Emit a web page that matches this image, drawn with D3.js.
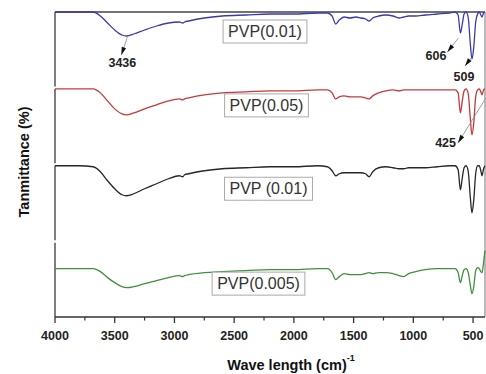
<!DOCTYPE html>
<html>
<head>
<meta charset="utf-8">
<script src="https://cdn.jsdelivr.net/npm/d3@7"></script>
<style>
  body { margin: 0; background: #fff; }
  svg { display: block; font-family: "Liberation Sans", Arial, sans-serif; }
</style>
</head>
<body>
<svg id="chart" width="486" height="374"></svg>
<script>
// wavenumber grid (cm-1) shared by all four spectra
const wavenumbers = [4000, 3800, 3680, 3620, 3560, 3500, 3440, 3400, 3340, 3250,
  3150, 3050, 2960, 2930, 2915, 2880, 2750, 2600, 2400, 2200,
  2000, 1800, 1720, 1680, 1650, 1620, 1580, 1530, 1480, 1440,
  1400, 1370, 1340, 1290, 1230, 1170, 1120, 1080, 1040, 980,
  900, 800, 700, 650, 625, 606, 590, 575, 558, 540,
  524, 509, 494, 478, 462, 448, 435, 425, 412, 400];

// transmittance (relative %)
const pvpBlue001 = [100, 100, 100, 96, 89, 82, 77, 76, 78, 82,
  86, 89, 90, 89, 90, 91, 94, 96, 97, 98,
  98, 99, 99, 96, 88, 92, 95, 94, 95, 94,
  93, 91, 94, 96, 97, 96, 94, 95, 96, 96,
  97, 98, 99, 100, 97, 79, 88, 98, 100, 94,
  70, 53, 65, 90, 98, 100, 97, 95, 99, 100];
const pvpRed005 = [100, 100, 100, 96, 88, 80, 75, 74, 76, 80,
  84, 88, 90, 89, 90, 91, 94, 96, 97, 98,
  98, 99, 99, 96, 90, 92, 93, 92, 92, 92,
  91, 90, 93, 96, 98, 99, 98, 99, 99, 99,
  99, 99, 99, 99, 96, 76, 88, 98, 100, 95,
  72, 54, 66, 92, 99, 100, 97, 94, 99, 100];
const pvpBlack001 = [100, 100, 99, 94, 85, 77, 71, 70, 72, 77,
  82, 87, 90, 89, 91, 92, 95, 97, 98, 99,
  99, 100, 99, 95, 90, 92, 93, 93, 93, 93,
  92, 89, 94, 98, 99, 98, 97, 97, 98, 98,
  98, 99, 100, 100, 96, 76, 88, 98, 100, 94,
  70, 53, 66, 92, 100, 100, 95, 90, 97, 100];
const pvpGreen0005 = [74, 74, 74, 71, 65, 60, 56, 55, 56, 59,
  62, 65, 67, 66, 67, 68, 70, 71, 72, 73,
  73, 74, 74, 70, 63, 66, 69, 68, 68, 68,
  69, 70, 69, 70, 70, 69, 67, 66, 69, 71,
  73, 74, 74, 74, 70, 60, 67, 73, 74, 70,
  58, 49, 56, 72, 75, 74, 71, 70, 80, 92];

const seriesLabels = ["PVP(0.01)", "PVP(0.05)", "PVP (0.01)", "PVP(0.005)"];
const xTickValues = [4000, 3500, 3000, 2500, 2000, 1500, 1000, 500];
const xMinorTicks = [3750, 3250, 2750, 2250, 1750, 1250, 750];

// marked peaks: series index, wavenumber, label
const peaks = [
  { series: 0, wn: 3436, label: "3436" },
  { series: 0, wn: 606, label: "606" },
  { series: 0, wn: 509, label: "509" },
  { series: 1, wn: 425, label: "425" }
];

const spectra = [pvpBlue001, pvpRed005, pvpBlack001, pvpGreen0005];
const colors = ["#3a3aae", "#c33a3a", "#262626", "#3f8f3f"];

// layout
const plotLeft = 55, plotRight = 485, plotTop = 12, plotBottom = 317, gap = 2.5;
const panelH = (plotBottom - plotTop - 3 * gap) / 4;
const labelBoxes = [ // centre x, centre y offset from panel top
  { cx: 265, cy: 19.5 },
  { cx: 266.5, cy: 16.5 },
  { cx: 268.5, cy: 23 },
  { cx: 258.5, cy: 41 }
];
const annotLayout = [ // from/tip/text relative to peak point
  { from: [5, 2], tip: [-1, 20], text: [0, 32], anchor: "middle" },
  { from: [-2, 5], tip: [-13, 19], text: [-14, 27], anchor: "end" },
  { from: [-1, -1], tip: [-7, 7], text: [-8, 22], anchor: "middle" },
  { from: [4, 3], tip: [-24, 48], text: [-26, 52], anchor: "end" }
];

const svg = d3.select("#chart");
const x = d3.scaleLinear().domain([4000, 400]).range([plotLeft, plotRight]);
const panelTop = i => plotTop + i * (panelH + gap);
const yScales = spectra.map((s, i) => d3.scaleLinear().domain([100 - panelH, 100]).range([panelTop(i) + panelH, panelTop(i)]));

const line = (ys) => d3.line().x((d, j) => x(wavenumbers[j])).y(d => ys(d)).curve(d3.curveMonotoneX);

// frame: top line, right line, segmented left axis
svg.append("line").attr("x1", plotLeft).attr("x2", plotRight).attr("y1", plotTop).attr("y2", plotTop).attr("stroke", "#444").attr("stroke-width", 1.3);
svg.append("line").attr("x1", plotRight).attr("x2", plotRight).attr("y1", plotTop).attr("y2", plotBottom).attr("stroke", "#777").attr("stroke-width", 1);
spectra.forEach((s, i) => {
  svg.append("line").attr("x1", plotLeft).attr("x2", plotLeft).attr("y1", panelTop(i)).attr("y2", panelTop(i) + panelH).attr("stroke", "#555").attr("stroke-width", 1.5);
});

// spectra
spectra.forEach((s, i) => {
  svg.append("path").datum(s).attr("d", line(yScales[i])).attr("fill", "none").attr("stroke", colors[i]).attr("stroke-width", 1.3).attr("stroke-linejoin", "round");
});

// label boxes
labelBoxes.forEach((b, i) => {
  const g = svg.append("g");
  const t = g.append("text").attr("x", b.cx).attr("y", panelTop(i) + b.cy + 5.5).attr("text-anchor", "middle").attr("font-size", 16).attr("fill", "#333").text(seriesLabels[i]);
  const bb = t.node().getBBox();
  g.insert("rect", "text").attr("x", bb.x - 5).attr("y", panelTop(i) + b.cy - 11.5).attr("width", bb.width + 10).attr("height", 23).attr("fill", "#fff").attr("stroke", "#aaa").attr("stroke-width", 1);
});

// peak annotations
peaks.forEach((p, k) => {
  const j = wavenumbers.indexOf(p.wn);
  const vals = spectra[p.series];
  const v = j >= 0 ? vals[j] : d3.scaleLinear().domain(wavenumbers).range(vals)(p.wn);
  const px = x(p.wn), py = yScales[p.series](v);
  const L = annotLayout[k];
  const x0 = px + L.from[0], y0 = py + L.from[1], x1 = px + L.tip[0], y1 = py + L.tip[1];
  svg.append("line").attr("x1", x0).attr("y1", y0).attr("x2", x1).attr("y2", y1).attr("stroke", "#888").attr("stroke-width", 0.8);
  const ang = Math.atan2(y1 - y0, x1 - x0);
  const len = 8, hw = 2.3;
  const bx = x1 - len * Math.cos(ang), by = y1 - len * Math.sin(ang);
  const pts = [[x1, y1], [bx + hw * Math.sin(ang), by - hw * Math.cos(ang)], [bx - hw * Math.sin(ang), by + hw * Math.cos(ang)]];
  svg.append("polygon").attr("points", pts.map(q => q.join(",")).join(" ")).attr("fill", "#111");
  svg.append("text").attr("x", px + L.text[0]).attr("y", py + L.text[1]).attr("text-anchor", L.anchor).attr("font-size", 12.5).attr("font-weight", "bold").attr("fill", "#222").text(p.label);
});

// bottom axis
const xAxis = svg.append("g").attr("transform", `translate(0,${plotBottom})`);
xAxis.append("line").attr("x1", plotLeft).attr("x2", plotRight).attr("stroke", "#333").attr("stroke-width", 1.5);
xAxis.selectAll(".major").data(xTickValues).join("line").attr("class", "major").attr("x1", d => x(d)).attr("x2", d => x(d)).attr("y1", 0).attr("y2", 6).attr("stroke", "#333").attr("stroke-width", 1.3);
xAxis.selectAll(".minor").data(xMinorTicks).join("line").attr("class", "minor").attr("x1", d => x(d)).attr("x2", d => x(d)).attr("y1", 0).attr("y2", 3.5).attr("stroke", "#333").attr("stroke-width", 1.2);
xAxis.selectAll("text").data(xTickValues).join("text").attr("x", d => x(d)).attr("y", 23).attr("text-anchor", "middle").attr("font-size", 12.5).attr("font-weight", "bold").attr("fill", "#222").text(d => d);

// axis titles
const xt = svg.append("text").attr("x", 291).attr("y", 370).attr("text-anchor", "middle").attr("font-size", 14.5).attr("font-weight", "bold").attr("fill", "#111");
xt.append("tspan").text("Wave length (cm)");
xt.append("tspan").attr("dy", -9).attr("font-size", 9).text("-1");
svg.append("text").attr("transform", "translate(29,162) rotate(-90)").attr("text-anchor", "middle").attr("font-size", 14.5).attr("font-weight", "bold").attr("fill", "#111").text("Tanmittance (%)");
</script>
</body>
</html>
